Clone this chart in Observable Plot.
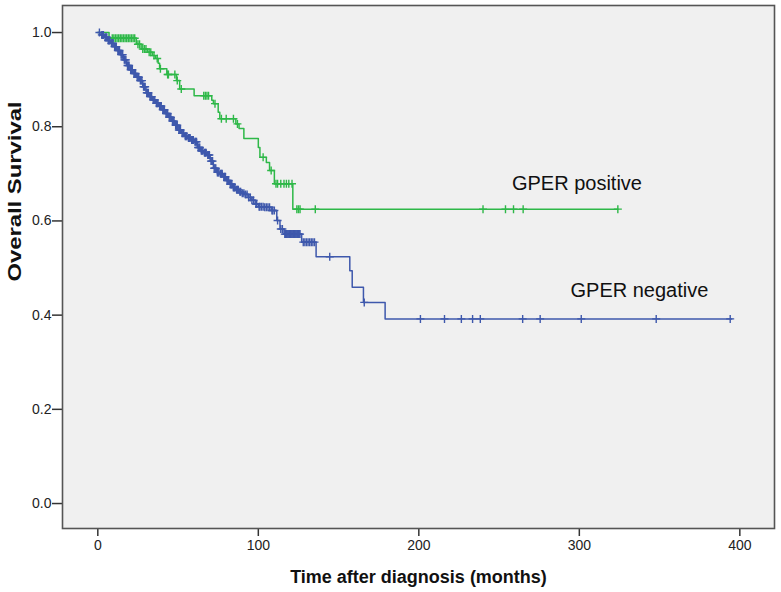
<!DOCTYPE html>
<html>
<head>
<meta charset="utf-8">
<script src="https://cdn.jsdelivr.net/npm/d3@7"></script>
<script src="https://cdn.jsdelivr.net/npm/@observablehq/plot@0.6"></script>
<style>
  body { margin: 0; background: #ffffff; }
  #chart svg { display: block; }
</style>
</head>
<body>
<div id="chart"></div>
<script>
// ---------- data ----------
const groups = ["GPER positive", "GPER negative"];
const groupColors = ["#2EB848", "#3E58AC"];

// GPER positive: event times (months) and survival after each event
const posTimes = [0, 7, 24, 27, 31, 34, 36, 37.6, 38.5, 43, 49, 51, 60, 71, 72, 75, 76, 86, 88, 91, 100, 101, 105, 107, 110, 121.5];
const posSurv  = [1.0, 0.988, 0.975, 0.965, 0.958, 0.951, 0.945, 0.935, 0.923, 0.911, 0.898, 0.880, 0.866, 0.856, 0.849, 0.831, 0.817, 0.806, 0.796, 0.775, 0.756, 0.735, 0.724, 0.707, 0.679, 0.625];
const posEnd = 324;
const posCensor = [9, 10, 11, 12, 13, 14, 15, 16, 17, 18, 19, 20, 21, 22, 23, 25, 26, 28, 29, 30, 32, 33, 35, 37, 39, 43.5, 44, 48, 49.5, 52, 66, 67, 68, 69, 73, 77, 80, 84.5, 87, 103, 108, 111, 112, 114, 116, 117.5, 119, 121, 124, 125, 126, 135.5, 240, 254, 259, 265, 324];

// GPER negative
const negTimes = [0, 2, 4, 6, 8, 10, 12, 14, 16, 18, 20, 22, 24, 26, 28, 30, 32, 34, 36, 38, 40, 42, 44, 46, 48, 50, 52, 54, 56, 58, 60, 62, 64, 66, 68, 70, 72, 74, 76, 78, 80, 82, 84, 86, 88, 90, 92, 94, 96, 98, 100, 104, 108, 111.5, 113.5, 116, 127, 136, 157, 158.5, 165.5, 179];
const negSurv  = [1.0, 0.995, 0.99, 0.983, 0.977, 0.970, 0.962, 0.953, 0.942, 0.930, 0.921, 0.913, 0.905, 0.898, 0.885, 0.872, 0.864, 0.857, 0.850, 0.844, 0.836, 0.828, 0.820, 0.812, 0.803, 0.793, 0.786, 0.780, 0.776, 0.772, 0.768, 0.756, 0.749, 0.745, 0.740, 0.727, 0.712, 0.703, 0.700, 0.694, 0.686, 0.678, 0.671, 0.666, 0.662, 0.659, 0.656, 0.650, 0.644, 0.636, 0.630, 0.629, 0.622, 0.601, 0.583, 0.572, 0.555, 0.524, 0.494, 0.459, 0.427, 0.392];
const negEnd = 395;
const negCensor = [1, 2.5, 3, 3.5, 4.5, 5, 5.5, 6.5, 7, 7.5, 8.5, 9, 9.5, 10.5, 11, 11.5, 12.5, 13, 13.5, 14.5, 15, 15.5, 16.5, 17, 17.5, 18.5, 19, 19.5, 20.5, 21, 21.5, 22.5, 23, 23.5, 24.5, 25, 25.5, 26.5, 27, 27.5, 28.5, 29, 29.5, 30.5, 31, 31.5, 32.5, 33, 33.5, 34.5, 35, 35.5, 36.5, 37, 37.5, 38.5, 39, 39.5, 40.5, 41, 41.5, 42.5, 43, 43.5, 44.5, 45, 45.5, 46.5, 47, 47.5, 48.5, 49, 49.5, 50.5, 51, 51.5, 52.5, 53, 53.5, 54.5, 55, 55.5, 56.5, 57, 57.5, 58.5, 59, 59.5, 60.5, 61, 61.5, 62.5, 63, 63.5, 64.5, 65, 65.5, 66.5, 67, 67.5, 68.5, 69, 69.5, 70.5, 71, 71.5, 72.5, 73, 73.5, 74.5, 75, 75.5, 76.5, 77, 77.5, 78.5, 79, 79.5, 80.5, 81, 81.5, 82.5, 83, 83.5, 84.5, 85, 85.5, 86.5, 87, 87.5, 88.5, 89, 90, 91, 92, 93, 94, 95, 96, 97, 98.5, 99, 100.5, 101, 102, 103, 104, 105, 106, 107, 108.5, 109, 110, 112, 114, 115, 116.5, 117, 117.5, 118, 118.5, 119, 119.5, 120, 120.5, 121, 121.5, 122, 122.5, 123, 123.5, 124, 124.5, 125, 125.5, 126, 128, 129, 130, 131, 132, 133, 134, 135, 144.5, 166, 201, 216, 226.5, 233.5, 238.3, 264.7, 275.6, 301.2, 347.9, 394];

const xTicks = [0, 100, 200, 300, 400];
const yTicks = [0, 0.2, 0.4, 0.6, 0.8, 1.0];
const xTitle = "Time after diagnosis (months)";
const yTitle = "Overall Survival";
const labelTexts = ["GPER positive", "GPER negative"];
const labelX = [258, 294.5];
const labelY = [0.680, 0.452];

// ---------- build tables ----------
function stepRows(group, times, surv, end) {
  const rows = times.map((t, i) => ({group, t, s: surv[i]}));
  rows.push({group, t: end, s: surv[surv.length - 1]});
  return rows;
}
function survAt(times, surv, t) {
  let s = surv[0];
  for (let i = 0; i < times.length; i++) if (times[i] <= t) s = surv[i];
  return s;
}
const lineRows = [
  ...stepRows(groups[0], posTimes, posSurv, posEnd),
  ...stepRows(groups[1], negTimes, negSurv, negEnd)
];
const censorRows = [
  ...posCensor.map(t => ({group: groups[0], t, s: survAt(posTimes, posSurv, t)})),
  ...negCensor.map(t => ({group: groups[1], t, s: survAt(negTimes, negSurv, t)}))
];
const labelRows = labelTexts.map((text, i) => ({text, x: labelX[i], y: labelY[i]}));

const plusSymbol = {
  draw(ctx, size) {
    const r = Math.sqrt(size / Math.PI);
    ctx.moveTo(-r, 0); ctx.lineTo(r, 0);
    ctx.moveTo(0, -r); ctx.lineTo(0, r);
  }
};

const chart = Plot.plot({
  width: 781,
  height: 592,
  marginLeft: 62,
  marginRight: 7,
  marginTop: 5,
  marginBottom: 64,
  style: {fontFamily: "'Liberation Sans', Arial, sans-serif", fontSize: "14px", background: "#ffffff", color: "#222"},
  x: {domain: [-22, 421.6]},
  y: {domain: [-0.053, 1.0574]},
  color: {domain: groups, range: groupColors},
  marks: [
    Plot.frame({fill: "#f0f0f0"}),
    Plot.line(lineRows, {x: "t", y: "s", z: "group", stroke: "group", curve: "step-after", strokeWidth: 1.5}),
    Plot.dot(censorRows, {x: "t", y: "s", stroke: "group", symbol: plusSymbol, r: 4, fill: "none", strokeWidth: 1.4}),
    Plot.text(labelRows, {x: "x", y: "y", text: "text", textAnchor: "start", lineAnchor: "middle", fontSize: 20, fill: "#111"}),
    Plot.axisX({ticks: xTicks, tickSize: 8, tickPadding: 4, label: null, strokeWidth: 1.5, stroke: "#333"}),
    Plot.axisY({ticks: yTicks, tickFormat: d3.format(".1f"), tickSize: 10, tickPadding: 1, label: null, strokeWidth: 1.5, stroke: "#333"}),
    Plot.text([xTitle], {frameAnchor: "bottom", dy: 49, fontWeight: "bold", fontSize: 18, lineAnchor: "middle", fill: "#111"}),
    Plot.text([yTitle], {frameAnchor: "left", dx: -48, dy: 14.5, rotate: -90, fontWeight: "bold", fontSize: 19, lineAnchor: "middle", fill: "#111"}),
    Plot.frame({stroke: "#555", strokeWidth: 1.6})
  ]
});
document.getElementById("chart").appendChild(chart);
// stretch the rotated y title to its length in the reference
chart.querySelectorAll("text").forEach(el => {
  if (el.textContent === yTitle) {
    el.setAttribute("textLength", "180");
    el.setAttribute("lengthAdjust", "spacingAndGlyphs");
  }
});
</script>
</body>
</html>
